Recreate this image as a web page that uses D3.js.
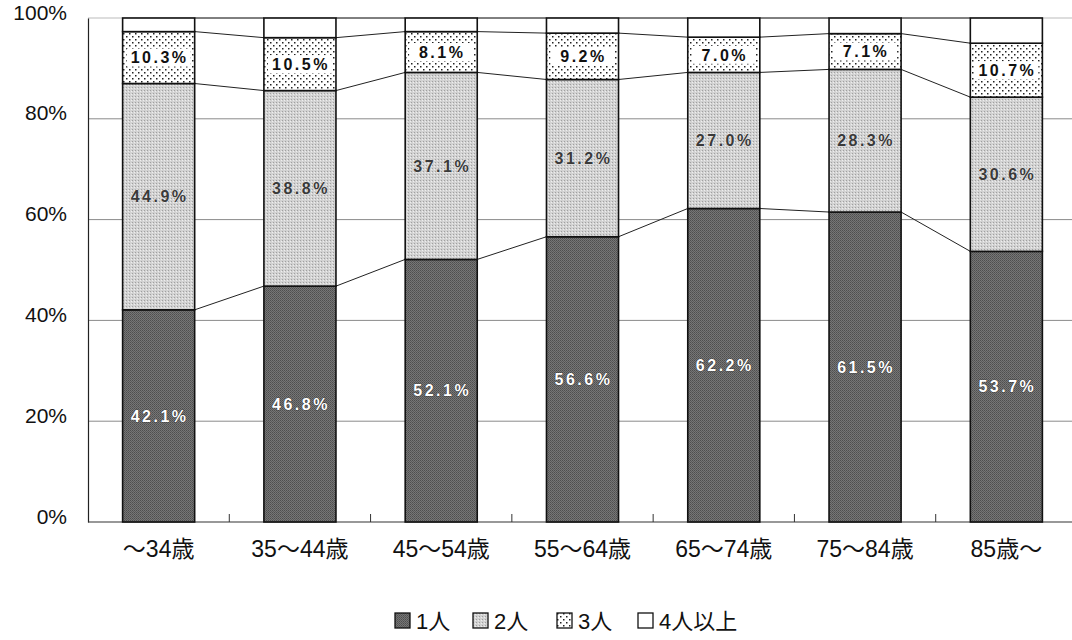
<!DOCTYPE html>
<html>
<head>
<meta charset="utf-8">
<script src="https://cdn.jsdelivr.net/npm/d3@7"></script>
<style>
  body { margin: 0; background: #fff; }
  text { font-family: "Liberation Sans", "Noto Sans CJK JP", sans-serif; }
</style>
</head>
<body>
<script>
// ---------------------- DATA ----------------------
const categories = ["～34歳", "35～44歳", "45～54歳", "55～64歳", "65～74歳", "75～84歳", "85歳～"];
const seriesNames = ["1人", "2人", "3人", "4人以上"];
const onePerson   = [42.1, 46.8, 52.1, 56.6, 62.2, 61.5, 53.7];
const twoPerson   = [44.9, 38.8, 37.1, 31.2, 27.0, 28.3, 30.6];
const threePerson = [10.3, 10.5, 8.1, 9.2, 7.0, 7.1, 10.7];
const fourPlus    = [2.7, 3.9, 2.7, 3.0, 3.8, 3.1, 5.0];
const yTicks = [0, 20, 40, 60, 80, 100];

const width = 1072, height = 640;
const margin = { left: 88, right: -5, top: 18, bottom: 118 };

const svg = d3.select("body").append("svg")
    .attr("width", width)
    .attr("height", height);

// ---------------------- PATTERNS ----------------------
const defs = svg.append("defs");

const dots = defs.append("pattern")
    .attr("id", "dots")
    .attr("width", 6).attr("height", 6)
    .attr("patternUnits", "userSpaceOnUse");
dots.append("rect").attr("width", 6).attr("height", 6).attr("fill", "#fff");
dots.append("rect").attr("x", 0).attr("y", 0).attr("width", 1.5).attr("height", 1.5).attr("fill", "#222");
dots.append("rect").attr("x", 3).attr("y", 3).attr("width", 1.5).attr("height", 1.5).attr("fill", "#222");

const dark = defs.append("pattern")
    .attr("id", "dark")
    .attr("width", 2).attr("height", 2)
    .attr("patternUnits", "userSpaceOnUse");
dark.append("rect").attr("width", 2).attr("height", 2).attr("fill", "#767676");
dark.append("rect").attr("width", 1).attr("height", 1).attr("fill", "#4e4e4e");
dark.append("rect").attr("x", 1).attr("y", 1).attr("width", 1).attr("height", 1).attr("fill", "#5a5a5a");

const light = defs.append("pattern")
    .attr("id", "light")
    .attr("width", 3).attr("height", 3)
    .attr("patternUnits", "userSpaceOnUse");
light.append("rect").attr("width", 3).attr("height", 3).attr("fill", "#d2d2d2");
light.append("rect").attr("width", 1).attr("height", 1).attr("fill", "#a0a0a0");
light.append("rect").attr("x", 2).attr("y", 1).attr("width", 1).attr("height", 1).attr("fill", "#eee");

const fills = ["url(#dark)", "url(#light)", "url(#dots)", "#fff"];

// ---------------------- SCALES ----------------------
const x = d3.scaleBand()
    .domain(categories)
    .range([margin.left, width - margin.right])
    .paddingInner(0.49)
    .paddingOuter(0.245);

const y = d3.scaleLinear()
    .domain([0, 100])
    .range([height - margin.bottom, margin.top]);

// stacked data
const rows = categories.map((c, i) => ({
    cat: c,
    "1人": onePerson[i], "2人": twoPerson[i], "3人": threePerson[i], "4人以上": fourPlus[i]
}));
const stacked = d3.stack().keys(seriesNames)(rows);

// ---------------------- GRID ----------------------
svg.append("g")
    .selectAll("line")
    .data(yTicks.filter(t => t > 0))
    .enter().append("line")
    .attr("x1", margin.left).attr("x2", width)
    .attr("y1", d => y(d)).attr("y2", d => y(d))
    .attr("stroke", d => d === 100 ? "#bbb" : "#8a8a8a")
    .attr("stroke-width", 1);

// y axis
const yAxis = svg.append("g")
    .attr("transform", `translate(${margin.left},0)`)
    .call(d3.axisLeft(y).tickValues(yTicks).tickFormat(d => d + "%").tickSize(0).tickPadding(21));
yAxis.select(".domain").attr("stroke", "#222").attr("stroke-width", 1.2);
yAxis.selectAll("text").attr("font-size", 21).attr("fill", "#111").attr("dy", "0.05em");

// baseline
svg.append("line")
    .attr("x1", margin.left).attr("x2", width)
    .attr("y1", y(0)).attr("y2", y(0))
    .attr("stroke", "#333").attr("stroke-width", 1.2);

// category tick marks between bars
svg.append("g")
    .selectAll("line")
    .data(categories.slice(1))
    .enter().append("line")
    .attr("x1", d => x(d) - x.step() * x.paddingInner() / 2)
    .attr("x2", d => x(d) - x.step() * x.paddingInner() / 2)
    .attr("y1", y(0) - 8).attr("y2", y(0))
    .attr("stroke", "#333");

// ---------------------- CONNECTOR LINES ----------------------
const connectors = svg.append("g");
stacked.forEach(layer => {
    for (let i = 0; i < categories.length - 1; i++) {
        connectors.append("line")
            .attr("x1", x(categories[i]) + x.bandwidth())
            .attr("x2", x(categories[i + 1]))
            .attr("y1", y(layer[i][1]))
            .attr("y2", y(layer[i + 1][1]))
            .attr("stroke", "#222")
            .attr("stroke-width", 1);
    }
});

// ---------------------- BARS ----------------------
const layers = svg.append("g")
    .selectAll("g")
    .data(stacked)
    .enter().append("g")
    .attr("fill", (d, i) => fills[i]);

layers.selectAll("rect")
    .data(d => d)
    .enter().append("rect")
    .attr("x", d => x(d.data.cat))
    .attr("y", d => y(d[1]))
    .attr("width", x.bandwidth())
    .attr("height", d => y(d[0]) - y(d[1]))
    .attr("stroke", "#111")
    .attr("stroke-width", 1.6);

// ---------------------- VALUE LABELS ----------------------
const labelStyle = [
    { fill: "#fff", stroke: "#222", bg: null },
    { fill: "#3a3a3a", stroke: "#eee", bg: null },
    { fill: "#111", stroke: null, bg: "#fff" }
];

stacked.slice(0, 3).forEach((layer, li) => {
    const st = labelStyle[li];
    layer.forEach(d => {
        const cx = x(d.data.cat) + x.bandwidth() / 2;
        const cy = y((d[0] + d[1]) / 2);
        const txt = d.data[layer.key].toFixed(1) + "%";
        if (st.bg) {
            svg.append("rect")
                .attr("x", cx - 32).attr("y", cy - 9)
                .attr("width", 64).attr("height", 18)
                .attr("fill", st.bg);
        }
        const t = svg.append("text")
            .attr("x", cx + 1).attr("y", cy)
            .attr("dy", "0.36em")
            .attr("text-anchor", "middle")
            .attr("font-size", 16)
            .attr("font-weight", "bold")
            .attr("letter-spacing", 2.5)
            .attr("fill", st.fill)
            .text(txt);
        if (st.stroke) {
            t.attr("stroke", st.stroke).attr("stroke-width", 0.7).attr("paint-order", "stroke");
        }
    });
});

// ---------------------- CATEGORY LABELS ----------------------
svg.append("g")
    .selectAll("text")
    .data(categories)
    .enter().append("text")
    .attr("x", d => x(d) + x.bandwidth() / 2)
    .attr("y", 557)
    .attr("text-anchor", "middle")
    .attr("font-size", 23)
    .attr("fill", "#111")
    .text(d => d);

// ---------------------- LEGEND ----------------------
const legend = svg.append("g").attr("transform", "translate(395,613)");
const legendX = [0, 78, 162, 243];
seriesNames.forEach((name, i) => {
    const g = legend.append("g").attr("transform", `translate(${legendX[i]},0)`);
    g.append("rect")
        .attr("x", 0).attr("y", 0)
        .attr("width", 15).attr("height", 15)
        .attr("fill", fills[i])
        .attr("stroke", "#111")
        .attr("stroke-width", 1.3);
    g.append("text")
        .attr("x", 21).attr("y", 16)
        .attr("font-size", 22)
        .attr("fill", "#111")
        .text(name);
});
</script>
</body>
</html>
